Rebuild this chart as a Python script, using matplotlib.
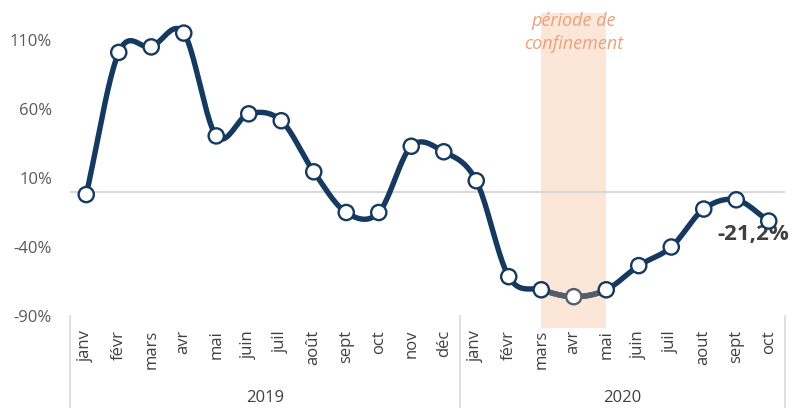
import matplotlib
matplotlib.use("Agg")
import matplotlib.pyplot as plt
from matplotlib.patches import Rectangle
from matplotlib.lines import Line2D
import matplotlib.transforms as mtransforms
import numpy as np

plt.rcParams['font.family'] = ['Open Sans', 'DejaVu Sans']

months = ["janv", "févr", "mars", "avr", "mai", "juin", "juil", "août", "sept", "oct", "nov", "déc",
          "janv", "févr", "mars", "avr", "mai", "juin", "juil", "aout", "sept", "oct"]
values = [-2, 101, 105, 115, 40.5, 56.5, 51.5, 14.5, -15, -15, 33, 29,
          8, -61.5, -71, -76, -71, -53.5, -40, -12.5, -5.8, -21.2]
years = ["2019", "2020"]
yticks = [110, 60, 10, -40, -90]
lockdown = (14, 16)  # mars..mai 2020

navy = "#163a5f"
grey_seg = "#545f69"
tick_col = "#595959"
sep_col = "#d9d9d9"


def smooth(xs, ys, n=24):
    # catmull-rom, just for drawing a smoothed line like excel does
    px = np.concatenate([[2 * xs[0] - xs[1]], xs, [2 * xs[-1] - xs[-2]]])
    py = np.concatenate([[2 * ys[0] - ys[1]], ys, [2 * ys[-1] - ys[-2]]])
    ox, oy = [], []
    t = np.linspace(0, 1, n, endpoint=False)
    for i in range(1, len(px) - 2):
        for p, o in ((px, ox), (py, oy)):
            p0, p1, p2, p3 = p[i - 1], p[i], p[i + 1], p[i + 2]
            o.extend(0.5 * ((2 * p1) + (-p0 + p2) * t + (2 * p0 - 5 * p1 + 4 * p2 - p3) * t ** 2
                            + (-p0 + 3 * p1 - 3 * p2 + p3) * t ** 3))
    ox.append(xs[-1])
    oy.append(ys[-1])
    return np.array(ox), np.array(oy)


x = np.arange(len(values))
y = np.array(values, dtype=float)
sx, sy = smooth(x.astype(float), y)

fig = plt.figure(figsize=(7.92, 4.08), dpi=100)
ax = fig.add_axes([70 / 792, (408 - 316) / 408, 715 / 792, 303.6 / 408])
ax.set_xlim(-0.5, len(values) - 0.5)
ax.set_ylim(-90, 130)

# shaded lockdown band
trans = mtransforms.blended_transform_factory(ax.transData, ax.transAxes)
ax.add_patch(Rectangle((lockdown[0], -0.04), lockdown[1] - lockdown[0], 1.037,
                       transform=trans, facecolor="#fbe6d7", edgecolor="none",
                       zorder=0, clip_on=False))
ax.text((lockdown[0] + lockdown[1]) / 2, 115.5, "période de\nconfinement", ha="center", va="center",
        fontsize=13, style="italic", color="#e8a27c", linespacing=1.3)

ax.axhline(0, color=sep_col, lw=1.5, zorder=1)

ax.plot(sx, sy, color=navy, lw=3.9, solid_capstyle="round", zorder=2)
m = (sx >= lockdown[0]) & (sx <= lockdown[1])
ax.plot(sx[m], sy[m], color=grey_seg, lw=3.9, solid_capstyle="round", zorder=3)

edges = [grey_seg if i == 15 else navy for i in x]
ax.scatter(x, y, s=120, facecolor="white", edgecolor=edges, linewidth=1.7, zorder=4)

ax.text(20.52, -31, "-21,2%", ha="center", va="center", fontsize=16, fontweight="bold", color="#404040")

for s in ax.spines.values():
    s.set_visible(False)
ax.set_yticks(yticks)
ax.set_yticklabels([f"{v}%" for v in yticks])
ax.set_xticks(x)
ax.set_xticklabels(months, rotation=90)
ax.tick_params(axis="y", length=0, pad=13, labelsize=12, labelcolor=tick_col)
ax.tick_params(axis="x", length=0, pad=10, labelsize=12, labelcolor="#404040")

# category group separators and year labels
for px in (70, 460, 785):
    fig.add_artist(Line2D([px / 792, px / 792], [0, (408 - 316) / 408], color=sep_col, lw=1.2))
fig.text(265 / 792, 1 - 398 / 408, years[0], ha="center", va="center", fontsize=12, color="#404040")
fig.text(622 / 792, 1 - 398 / 408, years[1], ha="center", va="center", fontsize=12, color="#404040")

fig.savefig("out.png", dpi=100)
